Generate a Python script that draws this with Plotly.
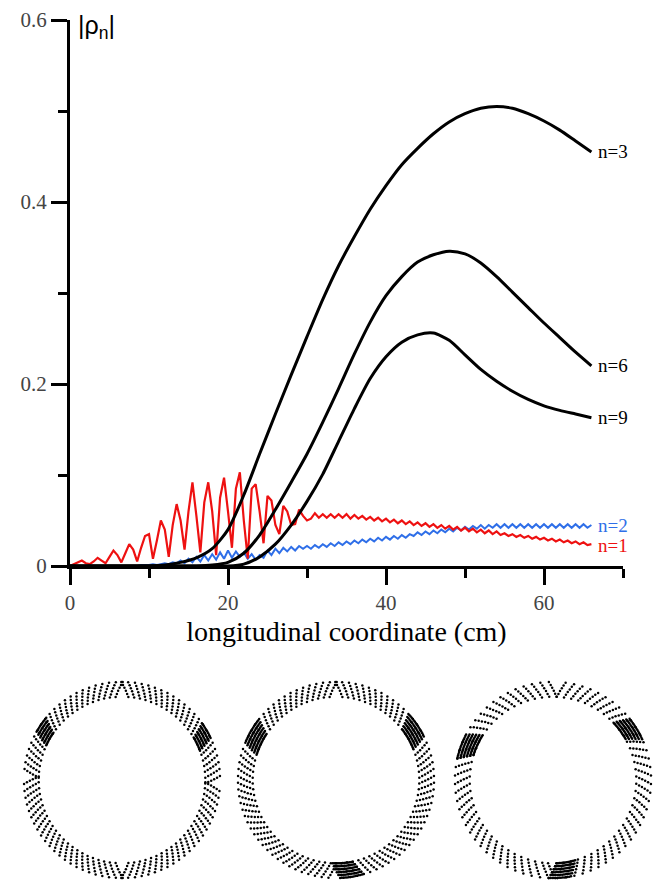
import plotly.graph_objects as go

# ---------------- data ----------------
# smooth harmonics, sampled every 2 cm
x_coarse = [0, 2, 4, 6, 8, 10, 12, 14, 16, 18, 20, 22, 24, 26, 28, 30, 32, 34,
            36, 38, 40, 42, 44, 46, 48, 50, 52, 54, 56, 58, 60, 62, 64, 66]
n3_vals = [0, 0, 0, 0, 0, 0.000, 0.001, 0.004, 0.009, 0.019, 0.040, 0.078, 0.123,
           0.167, 0.210, 0.252, 0.293, 0.330, 0.362, 0.392, 0.418, 0.441, 0.459,
           0.475, 0.488, 0.497, 0.503, 0.505, 0.503, 0.497, 0.489, 0.479, 0.467, 0.455]
n6_vals = [0, 0, 0, 0, 0, 0, 0, 0, 0, 0.001, 0.004, 0.014, 0.034, 0.062, 0.092,
           0.123, 0.158, 0.195, 0.233, 0.268, 0.297, 0.318, 0.334, 0.342, 0.346,
           0.343, 0.333, 0.318, 0.301, 0.284, 0.267, 0.251, 0.235, 0.220]
n9_vals = [0, 0, 0, 0, 0, 0, 0, 0, 0, 0, 0, 0.002, 0.010, 0.024, 0.045, 0.071,
           0.101, 0.137, 0.173, 0.206, 0.230, 0.246, 0.254, 0.256, 0.248, 0.232,
           0.216, 0.203, 0.192, 0.183, 0.176, 0.171, 0.167, 0.163]

# oscillating harmonics, sampled every 0.5 cm from 0 to 66 cm
fine_step_cm = 0.5
n1_vals = [0.000, 0.002, 0.004, 0.006, 0.003, 0.002, 0.005, 0.009, 0.006, 0.003,
           0.010, 0.017, 0.012, 0.004, 0.014, 0.024, 0.018, 0.005, 0.020, 0.033,
           0.035, 0.008, 0.028, 0.050, 0.040, 0.010, 0.045, 0.068, 0.050, 0.018,
           0.060, 0.092, 0.055, 0.015, 0.070, 0.092, 0.060, 0.012, 0.075, 0.097,
           0.060, 0.020, 0.085, 0.103, 0.050, 0.008, 0.085, 0.090, 0.060, 0.025,
           0.077, 0.072, 0.045, 0.035, 0.066, 0.060, 0.045, 0.046, 0.062, 0.055,
           0.050,
           0.052, 0.058, 0.053, 0.057, 0.053, 0.057, 0.053, 0.057, 0.053, 0.057,
           0.052, 0.056, 0.052, 0.055, 0.051, 0.054, 0.050, 0.053, 0.049, 0.052,
           0.048, 0.051, 0.047, 0.050, 0.046, 0.049, 0.045, 0.048, 0.044, 0.047,
           0.043, 0.046, 0.042, 0.045, 0.041, 0.044, 0.040, 0.043, 0.039, 0.042,
           0.038, 0.041, 0.037, 0.040, 0.036, 0.039, 0.035, 0.038, 0.034, 0.036,
           0.033, 0.035, 0.032, 0.034, 0.031, 0.033, 0.030, 0.032, 0.029, 0.031,
           0.028, 0.030, 0.027, 0.029, 0.026, 0.028, 0.025, 0.027, 0.024, 0.026,
           0.023, 0.024]
n2_vals = [0, 0, 0, 0, 0, 0, 0, 0, 0, 0, 0, 0, 0, 0, 0, 0, 0, 0, 0.001, 0.001,
           0.001, 0.002, 0.001, 0.002, 0.003, 0.002, 0.004, 0.003, 0.006, 0.003,
           0.008, 0.004, 0.010, 0.005, 0.012, 0.006, 0.013, 0.007, 0.015, 0.008,
           0.017, 0.009, 0.016, 0.010, 0.015, 0.008, 0.013, 0.007, 0.012, 0.009,
           0.017, 0.012, 0.019, 0.014, 0.020, 0.016, 0.021, 0.017, 0.022, 0.019,
           0.022, 0.019, 0.023, 0.020, 0.024, 0.021, 0.025, 0.022, 0.026, 0.023,
           0.027, 0.024, 0.028, 0.025, 0.029, 0.026, 0.030, 0.027, 0.031, 0.028,
           0.032, 0.029, 0.033, 0.030, 0.034, 0.031, 0.035, 0.033, 0.037, 0.034,
           0.038, 0.035, 0.039, 0.036, 0.040, 0.037, 0.041, 0.038, 0.042, 0.039,
           0.043, 0.040, 0.044, 0.041, 0.045, 0.041, 0.045, 0.042, 0.046, 0.042,
           0.046, 0.042, 0.046, 0.042, 0.046, 0.042, 0.046, 0.042, 0.046, 0.042,
           0.046, 0.042, 0.046, 0.042, 0.046, 0.042, 0.046, 0.042, 0.046, 0.042,
           0.046, 0.042, 0.045]

x_ticks = [0, 20, 40, 60]
x_minor = [10, 30, 50, 70]
y_ticks = [0, 0.2, 0.4, 0.6]
y_tick_text = ["0", "0.2", "0.4", "0.6"]
y_minor = [0.1, 0.3, 0.5]

# beam cross-section rings: each particle dash = dots at these radii, tilted
ring_dot_r = [0.85, 0.88, 0.91, 0.94, 0.97, 1.0]
ring_dot_twist = [-2.4, -1.4, -0.5, 0.5, 1.4, 2.4]      # degrees along a dash
ring_dash_step = [4, 4, 5]                              # degrees between dashes
ring_twist_sign_by_quadrant = [[1, -1, 1, -1], [1, -1, -1, 1], [-1, 1, 1, -1]]
ring_bunch_theta = [[28, 148], [32, 152, 277], [34, 158, 276]]
ring_bunch_halfwidth = [5, 7, 7]

# ---------------- figure ----------------
OFF = 8  # page body margin of the written html


def xp(px):
    return (px - OFF) / 666


def yp(py):
    return 1 - (py - OFF) / 886


def fine_x(vals):
    return [i * fine_step_cm for i in range(len(vals))]


SERIF = "Liberation Serif, Times New Roman, DejaVu Serif, serif"
fig = go.Figure()

fig.add_trace(go.Scatter(x=fine_x(n2_vals), y=n2_vals, mode="lines",
                         line=dict(color="#2f6fe8", width=2), showlegend=False))
fig.add_trace(go.Scatter(x=fine_x(n1_vals), y=n1_vals, mode="lines",
                         line=dict(color="#ee1111", width=2.2), showlegend=False))
for vals in (n9_vals, n6_vals, n3_vals):
    fig.add_trace(go.Scatter(x=x_coarse, y=vals, mode="lines",
                             line=dict(color="black", width=3, shape="spline", smoothing=0.7),
                             showlegend=False))

labels = [("n=3", n3_vals[-1], "black"), ("n=6", n6_vals[-1], "black"),
          ("n=9", n9_vals[-1], "black"), ("n=2", n2_vals[-1], "#2f6fe8"),
          ("n=1", n1_vals[-1] - 0.002, "#ee1111")]
for txt, yv, col in labels:
    fig.add_annotation(x=x_coarse[-1] + 0.6, y=yv, xref="x", yref="y", text=txt,
                       showarrow=False, xanchor="left", yanchor="middle",
                       font=dict(family=SERIF, size=19, color=col))

fig.add_annotation(x=xp(76), y=yp(27), xref="paper", yref="paper",
                   text="|ρ<sub>n</sub>|", showarrow=False, xanchor="left", yanchor="middle",
                   font=dict(family="Liberation Sans, Arial, sans-serif", size=25, color="black"))

# rings
ring_px_x = [(22, 222), (236, 436), (453, 653)]
ring_px_y = (680, 880)
for k in range(3):
    th, rr = [], []
    step = ring_dash_step[k]
    signs = ring_twist_sign_by_quadrant[k]
    centres = list(range(0, 360, step))
    for c in ring_bunch_theta[k]:
        hw = ring_bunch_halfwidth[k]
        centres += list(range(c - hw, c + hw + 1, 1))
    for a in centres:
        s = signs[(a % 360) // 90]
        for r, tw in zip(ring_dot_r, ring_dot_twist):
            th.append(a + s * tw)
            rr.append(r)
    name = "polar" if k == 0 else f"polar{k + 1}"
    fig.add_trace(go.Scatterpolar(theta=th, r=rr, mode="markers", subplot=name,
                                  marker=dict(color="black", size=2.5), showlegend=False))
    fig.layout[name] = dict(domain=dict(x=[xp(ring_px_x[k][0]), xp(ring_px_x[k][1])],
                                        y=[yp(ring_px_y[1]), yp(ring_px_y[0])]),
                            bgcolor="white",
                            radialaxis=dict(visible=False, range=[0, 1.02]),
                            angularaxis=dict(visible=False))

axis_common = dict(showline=True, linecolor="black", linewidth=3, ticks="outside",
                   ticklen=16, tickwidth=3, tickcolor="black", showgrid=False,
                   zeroline=False, automargin=False,
                   tickfont=dict(family=SERIF, size=21, color="#444444"))

fig.update_layout(
    width=666, height=886,
    margin=dict(l=0, r=0, t=0, b=0),
    paper_bgcolor="white", plot_bgcolor="white",
    template="none",
    xaxis=dict(domain=[xp(70), xp(623)], range=[0, 70], tickvals=x_ticks,
               minor=dict(tickvals=x_minor, ticklen=9, tickwidth=3,
                          tickcolor="black", ticks="outside"),
               title=dict(text="longitudinal coordinate (cm)", standoff=8,
                          font=dict(family=SERIF, size=28, color="black")),
               **axis_common),
    yaxis=dict(domain=[yp(566), yp(20)], range=[0, 0.6], tickvals=y_ticks,
               ticktext=y_tick_text,
               minor=dict(tickvals=y_minor, ticklen=9, tickwidth=3,
                          tickcolor="black", ticks="outside"),
               **axis_common),
)

fig.write_html("out.html")
